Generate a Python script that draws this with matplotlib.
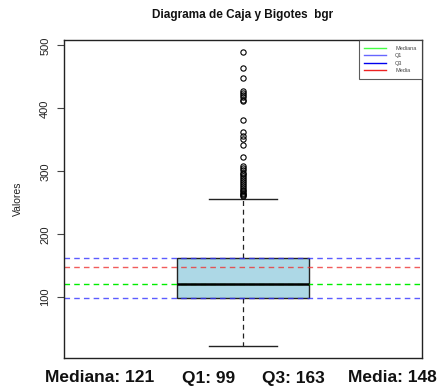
import matplotlib
matplotlib.use("Agg")
import matplotlib.pyplot as plt
from matplotlib.lines import Line2D

plt.rcParams['font.family'] = ['Liberation Sans', 'DejaVu Sans']

# Data
variable = "bgr"
mediana = 121
q1 = 99
q3 = 163
media = 148
whisker_low = 22
whisker_high = 256
outliers = [490, 464, 448, 427, 424, 421, 418, 414, 411, 382, 362, 356, 352,
            341, 323, 309, 305, 302, 298, 295, 292, 289, 286, 283, 280, 277,
            274, 271, 268, 266, 264, 262, 260]
yticks = [100, 200, 300, 400, 500]

fig = plt.figure(figsize=(4.44, 3.91), dpi=100)
ax = fig.add_axes([64/444, 1-358/391, (422-64)/444, (358-40)/391])

stats = [dict(med=mediana, q1=q1, q3=q3, whislo=whisker_low,
              whishi=whisker_high, fliers=outliers, label="")]
ax.bxp(stats, positions=[1], widths=0.37, patch_artist=True,
       boxprops=dict(facecolor='#ADD8E6', edgecolor='#222222', linewidth=1),
       medianprops=dict(color='black', linewidth=1.8),
       whiskerprops=dict(color='#222222', linestyle=(0, (4, 3)), linewidth=0.9),
       capprops=dict(color='#222222', linewidth=1),
       flierprops=dict(marker='o', markerfacecolor='none', markeredgecolor='black',
                       markersize=3.8, markeredgewidth=0.8),
       capwidths=0.19)

ax.set_xlim(0.5, 1.5)
ax.set_ylim(3.5, 508.5)

ax.axhline(mediana, color='#00ee00', linestyle=(0, (4, 3)), linewidth=1)
ax.axhline(q1, color='#3333ff', linestyle=(0, (4, 3)), linewidth=1, alpha=0.8)
ax.axhline(q3, color='#3333ff', linestyle=(0, (4, 3)), linewidth=1, alpha=0.8)
ax.axhline(media, color='#ee3333', linestyle=(0, (4, 3)), linewidth=1, alpha=0.8)

ax.set_xticks([])
ax.set_yticks(yticks)
ax.set_yticklabels([str(t) for t in yticks], rotation=90, va='center', fontsize=8, color='#222222')
ax.tick_params(axis='y', length=5, width=0.8, pad=5, colors='#444444', labelcolor='#222222')
for s in ax.spines.values():
    s.set_linewidth(1)
    s.set_color('#222222')

ax.set_ylabel("Valores", fontsize=7.5, color='#222222', labelpad=12)

fig.text(243/444, 1-15/391, f"Diagrama de Caja y Bigotes  {variable}",
         ha='center', va='center', fontsize=8.5, fontweight='bold', color='#111111')

handles = [Line2D([], [], color='#44ff44', lw=1),
           Line2D([], [], color='#6666ff', lw=1),
           Line2D([], [], color='#0000ee', lw=1),
           Line2D([], [], color='#ee2222', lw=1)]
leg = ax.legend(handles, ["Mediana", "Q1", "Q3", "Media"], loc='upper right',
                bbox_to_anchor=(1.0, 1.0), fontsize=4, frameon=True, fancybox=False,
                borderaxespad=0, handlelength=4, labelspacing=0.45,
                borderpad=1.0, handletextpad=1.6, edgecolor='#333333')
leg.get_frame().set_linewidth(0.8)
for t in leg.get_texts():
    t.set_color('#444444')

ys = 1 - 378/391
fig.text(45/444, ys, f"Mediana: {mediana}", ha='left', va='center', fontsize=12.5, fontweight='bold', color='#111111')
fig.text(182/444, ys, f"Q1: {q1}", ha='left', va='center', fontsize=12.5, fontweight='bold', color='#111111')
fig.text(262/444, ys, f"Q3: {q3}", ha='left', va='center', fontsize=12.5, fontweight='bold', color='#111111')
fig.text(348/444, ys, f"Media: {media}", ha='left', va='center', fontsize=12.5, fontweight='bold', color='#111111')

fig.savefig("out.png", dpi=100)
